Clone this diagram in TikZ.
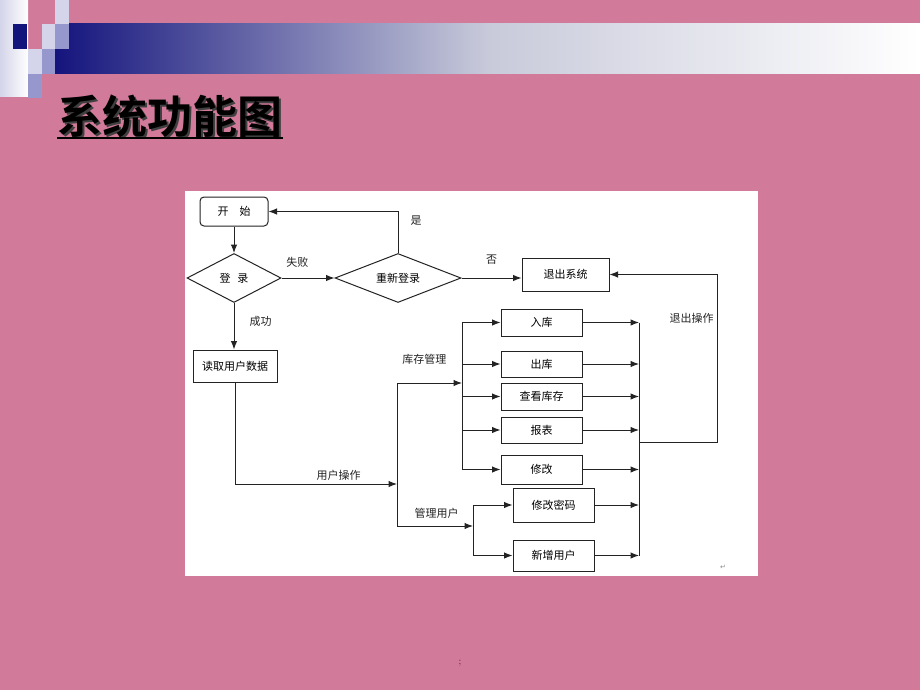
\documentclass[tikz,border=0pt]{standalone}
\usepackage{fontspec}
\usepackage{tikz}
\usetikzlibrary{shapes.geometric, arrows.meta}
\newfontfamily\cjk{Noto Sans CJK SC}[BoldFont={Noto Sans CJK SC Bold}]
\newfontfamily\fuhao{DejaVu Sans}
\definecolor{fenhong}{RGB}{209,122,154}
\definecolor{shenlan}{RGB}{20,20,125}
\definecolor{lanzhong}{RGB}{200,202,218}
\definecolor{qianzi}{RGB}{212,212,234}
\definecolor{zhongzi}{RGB}{150,152,205}
\definecolor{xian}{RGB}{35,35,35}

\begin{document}
\begin{tikzpicture}[x=1pt, y=-1pt, >={Latex[length=8.5pt, width=6.5pt]}, line width=1pt,
	kuang/.style={draw=xian, fill=white, inner sep=0pt, minimum width=81pt, font=\cjk\fontsize{11}{13}\selectfont},
	panduan/.style={diamond, draw=xian, fill=white, inner sep=0pt, minimum height=49pt, font=\cjk\fontsize{11}{13}\selectfont},
	biaoqian/.style={inner sep=0pt, font=\cjk\fontsize{11}{13}\selectfont},
	biaotizi/.style={inner sep=0pt, anchor=west, font=\cjk\bfseries\fontsize{45}{50}\selectfont}]
	\fill[fenhong] (0,0) rectangle (920,690);
	\shade[left color=shenlan, right color=white, middle color=lanzhong] (55,24) rectangle (920,74);
	\shade[left color=qianzi, right color=white] (0,0) rectangle (28,97);
	\fill[shenlan] (13,24) rectangle (27,49);
	\fill[qianzi] (55,0) rectangle (69,24);
	\fill[qianzi] (42,24) rectangle (55,49);
	\fill[zhongzi] (55,24) rectangle (69,49);
	\fill[qianzi] (28,49) rectangle (42,74);
	\fill[zhongzi] (42,49) rectangle (55,74);
	\fill[zhongzi] (28,74) rectangle (42,98);
	\node[biaotizi, text=black!75] (biaotiying) at (59,118) {系统功能图};
	\node[biaotizi] (biaoti) at (57,116) {系统功能图};
	\draw[line width=2pt] (biaoti.south west) -- (biaoti.south east);
	\fill[white] (185,191) rectangle (758,576);

	\node (kaishi) at (234,211.5) [kuang, rounded corners=4pt, minimum width=68pt, minimum height=29pt] {开\hspace{1em}始};
	\node (denglu) at (234,278) [panduan, aspect=1.9, minimum width=94pt] {登\hspace{0.6em}录};
	\node (chongxin) at (398,278) [panduan, aspect=2.6, minimum width=126pt] {重新登录};
	\node (tuichuxitong) at (565.5,274.5) [kuang, minimum width=87pt, minimum height=33pt] {退出系统};
	\node (duqu) at (235,366) [kuang, minimum width=84pt, minimum height=32pt] {读取用户数据};
		\node (ruku) at (541.5,322.5) [kuang, minimum height=27pt] {入库};
		\node (chuku) at (541.5,364) [kuang, minimum height=26pt] {出库};
		\node (chakan) at (541.5,396.5) [kuang, minimum height=27pt] {查看库存};
		\node (baobiao) at (541.5,430) [kuang, minimum height=26pt] {报表};
		\node (xiugai) at (541.5,469.5) [kuang, minimum height=29pt] {修改};
			\node (xgmm) at (553.5,505) [kuang, minimum height=34pt] {修改密码};
			\node (xzyh) at (553.5,555.5) [kuang, minimum height=31pt] {新增用户};
	\coordinate (caozuo) at (397,484);
	\coordinate (kucunzhi) at (397,383);
	\coordinate (guanlizhi) at (397,526);
	\coordinate (kucun) at (462,383);
	\coordinate (guanli) at (473,526);
	\coordinate (huizong) at (639,442);
	\coordinate (tuichu) at (717,442);
	\node (huiche) at (723,567) [inner sep=0pt, text=black!45, font=\fuhao\fontsize{7}{8}\selectfont] {↵};
	\node (fenhao) at (460,663) [inner sep=0pt, text={rgb,255:red,90;green,20;blue,50}, font=\fontsize{10}{12}\selectfont] {;};

	\draw[->, xian] (kaishi) to (denglu);
	\draw[->, xian] (denglu) to node [biaoqian, pos=0.3, above=10pt] {失败} (chongxin);
	\draw[->, xian] (chongxin.north) |- node [biaoqian, pos=0.39, right=12pt] {是} (kaishi.east);
	\draw[->, xian] (chongxin) -- node [biaoqian, above=13pt] {否} (chongxin -| tuichuxitong.west);
	\draw[->, xian] (denglu) -- node [biaoqian, pos=0.4, right=15pt] {成功} (denglu |- duqu.north);
	\draw[->, xian] (duqu) |- node [biaoqian, pos=0.82, above=3pt] {用户操作} (caozuo);
	\draw[xian] (kucunzhi) -- (guanlizhi);
	\draw[->, xian] (kucunzhi) to node [biaoqian, pos=0.42, above=18pt] {库存管理} (kucun);
	\draw[->, xian] (guanlizhi) to node [biaoqian, pos=0.52, above=7pt] {管理用户} (guanli);
	\draw[->, xian] (kucun) |- (ruku.west);
	\draw[->, xian] (kucun) |- (chuku.west);
	\draw[->, xian] (kucun) |- (chakan.west);
	\draw[->, xian] (kucun) |- (baobiao.west);
	\draw[->, xian] (kucun) |- (xiugai.west);
	\draw[->, xian] (guanli) |- (xgmm.west);
	\draw[->, xian] (guanli) |- (xzyh.west);
	\draw[->, xian] (ruku.east) -- (ruku.east -| huizong);
	\draw[->, xian] (chuku.east) -- (chuku.east -| huizong);
	\draw[->, xian] (chakan.east) -- (chakan.east -| huizong);
	\draw[->, xian] (baobiao.east) -- (baobiao.east -| huizong);
	\draw[->, xian] (xiugai.east) -- (xiugai.east -| huizong);
	\draw[->, xian] (xgmm.east) -- (xgmm.east -| huizong);
	\draw[->, xian] (xzyh.east) -- (xzyh.east -| huizong);
	\draw[xian] (ruku.east -| huizong) -- (xzyh.east -| huizong);
	\draw[->, xian] (huizong) -- (tuichu) |- node [biaoqian, pos=0.37, left=3pt] {退出操作} (tuichuxitong.east);
\end{tikzpicture}
\end{document}
